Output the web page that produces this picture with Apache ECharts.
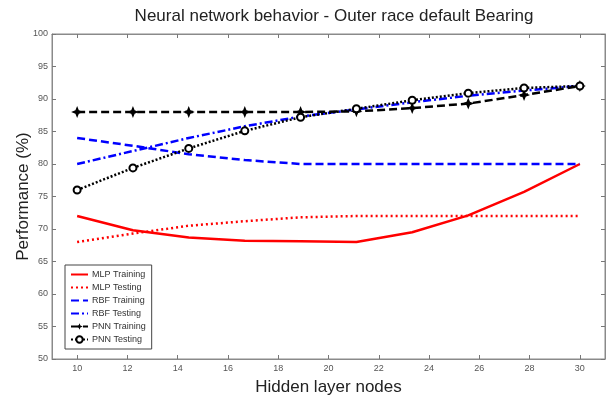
<!DOCTYPE html>
<html>
<head>
<meta charset="utf-8">
<script src="https://cdn.jsdelivr.net/npm/echarts@6/dist/echarts.min.js"></script>
<style>
  html, body { margin: 0; padding: 0; background: #fff; }
  #chart { width: 612px; height: 398px; }
</style>
</head>
<body>
<div id="chart"></div>
<script>
// hidden layer nodes (10 evenly spaced runs from 10 to 30)
var nodes = [10, 12.22, 14.44, 16.67, 18.89, 21.11, 23.33, 25.56, 27.78, 30];
var xTicks = [10, 12, 14, 16, 18, 20, 22, 24, 26, 28, 30];

// performance (%)
var mlpTraining = [72, 69.8, 68.7, 68.2, 68.1, 68, 69.5, 72.1, 75.7, 80];
var mlpTesting  = [68, 69.3, 70.5, 71.2, 71.8, 72, 72, 72, 72, 72];
var rbfTraining = [84, 82.8, 81.5, 80.6, 80, 80, 80, 80, 80, 80];
var rbfTesting  = [80, 82, 84, 85.8, 87.3, 88.4, 89.5, 90.5, 91.3, 92];
var pnnTraining = [88, 88, 88, 88, 88, 88.1, 88.6, 89.3, 90.6, 92];
var pnnTesting  = [76, 79.4, 82.4, 85.1, 87.2, 88.5, 89.8, 90.9, 91.7, 92];

function pairs(vals) {
    return nodes.map(function (x, i) { return [x, vals[i]]; });
}

var FONT = 'Arial, "Liberation Sans", sans-serif';
var frame = '#8a8a8a';
var starPath = 'path://M0,-6 L1.7,-1.7 L6,0 L1.7,1.7 L0,6 L-1.7,1.7 L-6,0 L-1.7,-1.7 Z';
// line-only legend entries: hide the legend dot
var noDot = { opacity: 0, color: 'rgba(0,0,0,0)', borderWidth: 0 };

var chart = echarts.init(document.getElementById('chart'), null, { renderer: 'canvas' });

var tickStyle = { show: true, inside: true, length: 4, lineStyle: { color: '#777', width: 1 } };

var option = {
    animation: false,
    backgroundColor: '#fff',
    title: {
        text: 'Neural network behavior - Outer race default Bearing',
        left: 329,
        textAlign: 'center',
        top: 3,
        textStyle: { fontFamily: FONT, fontSize: 17, fontWeight: 'normal', color: '#222' }
    },
    grid: {
        left: 52, right: 7, top: 34, bottom: 39,
        outerBoundsMode: 'none',
        show: true, borderColor: frame, borderWidth: 1, backgroundColor: '#fff'
    },
    legend: {
        orient: 'vertical',
        left: 65, top: 265,
        padding: [5, 6, 5, 5],
        itemWidth: 17, itemHeight: 8, itemGap: 4,
        backgroundColor: '#fff',
        borderColor: '#444', borderWidth: 1, borderRadius: 0,
        textStyle: { fontFamily: FONT, fontSize: 9, color: '#333', padding: [0, 0, 0, -1] },
        data: [
            { name: 'MLP Training', itemStyle: noDot },
            { name: 'MLP Testing', itemStyle: noDot },
            { name: 'RBF Training', itemStyle: noDot },
            { name: 'RBF Testing', itemStyle: noDot },
            { name: 'PNN Training' },
            { name: 'PNN Testing' }
        ]
    },
    xAxis: [{
        type: 'value', min: 9, max: 31, position: 'bottom',
        name: 'Hidden layer nodes', nameLocation: 'middle', nameGap: 20,
        nameMoveOverlap: false,
        nameTextStyle: { fontFamily: FONT, fontSize: 17, color: '#222' },
        axisLine: { show: true, lineStyle: { color: frame } },
        axisTick: Object.assign({ customValues: xTicks }, tickStyle),
        axisLabel: { customValues: xTicks, margin: 5, fontFamily: FONT, fontSize: 9, color: '#555' },
        splitLine: { show: false }
    }, {
        type: 'value', min: 9, max: 31, position: 'top',
        axisLine: { show: true, lineStyle: { color: frame } },
        axisTick: Object.assign({ customValues: xTicks }, tickStyle),
        axisLabel: { show: false },
        splitLine: { show: false }
    }],
    yAxis: [{
        type: 'value', min: 50, max: 100, interval: 5, position: 'left',
        name: 'Performance (%)', nameLocation: 'middle', nameGap: 20,
        nameMoveOverlap: false,
        nameTextStyle: { fontFamily: FONT, fontSize: 17, color: '#222' },
        axisLine: { show: true, lineStyle: { color: frame } },
        axisTick: tickStyle,
        axisLabel: { margin: 4, fontFamily: FONT, fontSize: 9, color: '#555' },
        splitLine: { show: false }
    }, {
        type: 'value', min: 50, max: 100, interval: 5, position: 'right',
        axisLine: { show: true, lineStyle: { color: frame } },
        axisTick: tickStyle,
        axisLabel: { show: false },
        splitLine: { show: false }
    }],
    series: [{
        name: 'MLP Training', type: 'line', data: pairs(mlpTraining),
        symbol: 'none', color: '#ff0000',
        lineStyle: { color: '#ff0000', width: 2.5, type: 'solid' }
    }, {
        name: 'MLP Testing', type: 'line', data: pairs(mlpTesting),
        symbol: 'none', color: '#ff0000',
        lineStyle: { color: '#ff0000', width: 2.5, type: [2, 3] }
    }, {
        name: 'RBF Training', type: 'line', data: pairs(rbfTraining),
        symbol: 'none', color: '#0000ff',
        lineStyle: { color: '#0000ff', width: 2.5, type: [8, 4] }
    }, {
        name: 'RBF Testing', type: 'line', data: pairs(rbfTesting),
        symbol: 'none', color: '#0000ff',
        lineStyle: { color: '#0000ff', width: 2.5, type: [8, 3, 2, 3] }
    }, {
        name: 'PNN Training', type: 'line', data: pairs(pnnTraining),
        symbol: starPath, symbolSize: 12, color: '#000',
        itemStyle: { color: '#000' },
        lineStyle: { color: '#000', width: 2.5, type: [8, 4] }
    }, {
        name: 'PNN Testing', type: 'line', data: pairs(pnnTesting),
        symbol: 'emptyCircle', symbolSize: 7, color: '#000',
        itemStyle: { color: '#000', borderWidth: 2 },
        lineStyle: { color: '#000', width: 2.5, type: [2, 2] }
    }]
};

chart.setOption(option);
</script>
</body>
</html>
